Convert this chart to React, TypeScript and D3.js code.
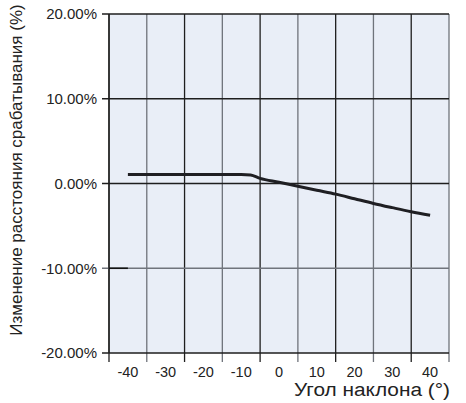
import React from "react";
import * as d3 from "d3";

const angles = [-40, -35, -30, -25, -20, -15, -10, -7.5, -5, 0, 5, 10, 15, 20, 25, 30, 35, 40];
const changes = [1.06, 1.06, 1.06, 1.06, 1.06, 1.06, 1.06, 1.0, 0.6, 0.15, -0.33, -0.8, -1.25, -1.8, -2.35, -2.85, -3.33, -3.75];
const xTickLabels = [-40, -30, -20, -10, 0, 10, 20, 30, 40];
const xGrid = [-45, -35, -25, -15, -5, 5, 15, 25, 35, 45];
const yTicks = [20, 10, 0, -10, -20];

const W = 466;
const H = 403;
const left = 109, right = 449, top = 14, bottom = 353;

export default function App() {
  const x = d3.scaleLinear().domain([-45, 45]).range([left, right]);
  const y = d3.scaleLinear().domain([-20, 20]).range([bottom, top]);
  const data = angles.map((a, i) => [a, changes[i]] as [number, number]);
  const line = d3
    .line<[number, number]>()
    .x((d) => x(d[0]))
    .y((d) => y(d[1]))
    .curve(d3.curveMonotoneX);
  const font = "'Liberation Sans', Arial, Helvetica, sans-serif";
  return (
    <svg
      width={W}
      height={H}
      style={{ position: "absolute", left: 0, top: 0, background: "#fff" }}
      fontFamily={font}
    >
      <rect x={left} y={top} width={right - left} height={bottom - top} fill="#e9eef7" />
      {xGrid.map((v, i) => (
        <line
          key={"vg" + v}
          x1={x(v)}
          x2={x(v)}
          y1={top}
          y2={bottom + 9}
          stroke={i % 2 === 0 ? "#1e1e1e" : "#6f737b"}
          strokeWidth={1.3}
        />
      ))}
      {yTicks.map((v) => (
        <line
          key={"hg" + v}
          x1={left - 7}
          x2={right}
          y1={y(v)}
          y2={y(v)}
          stroke={v === -10 ? "#70747c" : "#1e1e1e"}
          strokeWidth={1.3}
        />
      ))}
      <line x1={left} x2={left} y1={top} y2={bottom} stroke="#1e1e1e" strokeWidth={1.3} />
      <line x1={left} x2={x(-40)} y1={y(-10)} y2={y(-10)} stroke="#111" strokeWidth={1.6} />
      <path d={line(data) || ""} fill="none" stroke="#1f1f23" strokeWidth={3} />
      {yTicks.map((v) => (
        <text
          key={"yl" + v}
          x={97}
          y={y(v)}
          dy="0.35em"
          textAnchor="end"
          fontSize={15}
          fill="#222"
        >
          {v.toFixed(2) + "%"}
        </text>
      ))}
      {xTickLabels.map((v) => (
        <text key={"xl" + v} x={x(v)} y={377} textAnchor="middle" fontSize={14.5} fill="#222">
          {v}
        </text>
      ))}
      <text
        x={294}
        y={396}
        fontSize={18}
        fill="#222"
        textLength={156}
        lengthAdjust="spacingAndGlyphs"
      >
        Угол наклона (°)
      </text>
      <text
        transform={`translate(22,${(10 + 330) / 2}) rotate(-90)`}
        textAnchor="middle"
        fontSize={17}
        fill="#222"
      >
        Изменение расстояния срабатывания (%)
      </text>
    </svg>
  );
}
